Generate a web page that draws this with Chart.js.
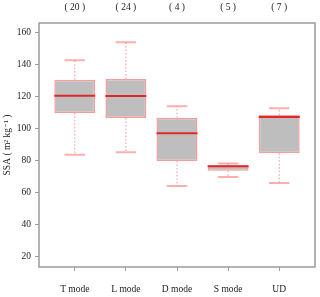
<!DOCTYPE html>
<html>
<head>
<meta charset="utf-8">
<script src="https://cdn.jsdelivr.net/npm/chart.js@4/dist/chart.umd.min.js"></script>
<style>
  html, body { margin: 0; padding: 0; background: #fff; }
  #wrap { width: 320px; height: 297px; }
</style>
</head>
<body>
<div id="wrap"><canvas id="myChart"></canvas></div>
<script>
// datos
const categories = ['T mode', 'L mode', 'D mode', 'S mode', 'UD'];
const counts = [20, 24, 4, 5, 7];
const whiskerLow = [83.5, 85.0, 63.9, 69.6, 65.8];
const q1 = [109.6, 106.4, 79.6, 73.5, 84.4];
const medians = [120.4, 120.2, 96.9, 76.3, 107.1];
const q3 = [130.4, 130.8, 106.6, 76.9, 108.3];
const whiskerHigh = [142.5, 153.7, 113.7, 78.0, 112.5];
const yTicks = [20, 40, 60, 80, 100, 120, 140, 160];

const serif = "'Liberation Serif', 'DejaVu Serif', serif";
const gray = '#9a9a9a';

// bigotes, tapas, medianas, marco y conteos
const boxExtras = {
    id: 'boxExtras',
    beforeDatasetsDraw(chart) {
        const ctx = chart.ctx;
        const x = chart.scales.x, y = chart.scales.y;
        const capHalf = (x.getPixelForValue(1.2) - x.getPixelForValue(1)) ;
        ctx.save();
        categories.forEach((c, i) => {
            const px = x.getPixelForValue(i + 1);
            ctx.strokeStyle = 'rgba(255,110,110,0.75)';
            ctx.lineWidth = 1;
            ctx.setLineDash([1.5, 2]);
            ctx.beginPath();
            ctx.moveTo(px, y.getPixelForValue(q3[i]));
            ctx.lineTo(px, y.getPixelForValue(whiskerHigh[i]));
            ctx.moveTo(px, y.getPixelForValue(q1[i]));
            ctx.lineTo(px, y.getPixelForValue(whiskerLow[i]));
            ctx.stroke();
            ctx.setLineDash([]);
            ctx.strokeStyle = 'rgba(255,120,120,0.6)';
            ctx.lineWidth = 2;
            ctx.beginPath();
            [whiskerHigh[i], whiskerLow[i]].forEach(v => {
                const py = y.getPixelForValue(v);
                ctx.moveTo(px - capHalf, py);
                ctx.lineTo(px + capHalf, py);
            });
            ctx.stroke();
        });
        ctx.restore();
    },
    afterDatasetsDraw(chart) {
        const ctx = chart.ctx;
        const x = chart.scales.x, y = chart.scales.y;
        const a = chart.chartArea;
        const half = (x.getPixelForValue(1.4) - x.getPixelForValue(1));
        ctx.save();
        ctx.strokeStyle = '#e0282a';
        ctx.lineWidth = 2;
        medians.forEach((m, i) => {
            const px = x.getPixelForValue(i + 1);
            const py = y.getPixelForValue(m);
            ctx.beginPath();
            ctx.moveTo(px - half, py);
            ctx.lineTo(px + half, py);
            ctx.stroke();
        });
        ctx.strokeStyle = gray;
        ctx.lineWidth = 1.5;
        ctx.strokeRect(a.left, a.top, a.right - a.left, a.bottom - a.top);
        ctx.fillStyle = '#222';
        ctx.font = '9.5px ' + serif;
        ctx.textAlign = 'center';
        ctx.textBaseline = 'middle';
        counts.forEach((n, i) => {
            ctx.fillText('( ' + n + ' )', x.getPixelForValue(i + 1), 7.5);
        });
        ctx.restore();
    }
};

const ctx = document.getElementById('myChart').getContext('2d');
const myChart = new Chart(ctx, {
    type: 'bar',
    data: {
        datasets: [{
            data: categories.map((c, i) => ({ x: i + 1, y: [q1[i], q3[i]] })),
            backgroundColor: '#bebebe',
            borderColor: 'rgba(240,90,90,0.6)',
            borderWidth: 1.5,
            borderSkipped: false,
            barPercentage: 0.8,
            categoryPercentage: 1
        }]
    },
    options: {
        responsive: true,
        maintainAspectRatio: false,
        animation: false,
        layout: { padding: { top: 23, right: 5, left: 0, bottom: 0 } },
        plugins: {
            legend: { display: false },
            tooltip: { enabled: false }
        },
        scales: {
            x: {
                type: 'linear',
                offset: false,
                min: 0.3,
                max: 5.7,
                afterBuildTicks: s => { s.ticks = categories.map((c, i) => ({ value: i + 1 })); },
                afterFit: s => { s.height = 30; },
                grid: { drawOnChartArea: false, offset: false, tickLength: 4, color: gray },
                border: { display: false },
                ticks: {
                    padding: 13,
                    color: '#222',
                    font: { family: serif, size: 9.5 },
                    callback: v => categories[v - 1]
                }
            },
            y: {
                min: 13.3,
                max: 165.8,
                afterBuildTicks: s => { s.ticks = yTicks.map(v => ({ value: v })); },
                afterFit: s => { s.width = 39; },
                grid: { drawOnChartArea: false, tickLength: 4, color: gray },
                border: { display: false },
                ticks: {
                    padding: 4,
                    color: '#222',
                    font: { family: serif, size: 9.5 }
                },
                title: {
                    display: true,
                    text: 'SSA ( m² kg⁻¹ )',
                    color: '#222',
                    font: { family: serif, size: 9.5 },
                    padding: { top: 2, bottom: 0 }
                }
            }
        }
    },
    plugins: [boxExtras]
});
</script>
</body>
</html>
